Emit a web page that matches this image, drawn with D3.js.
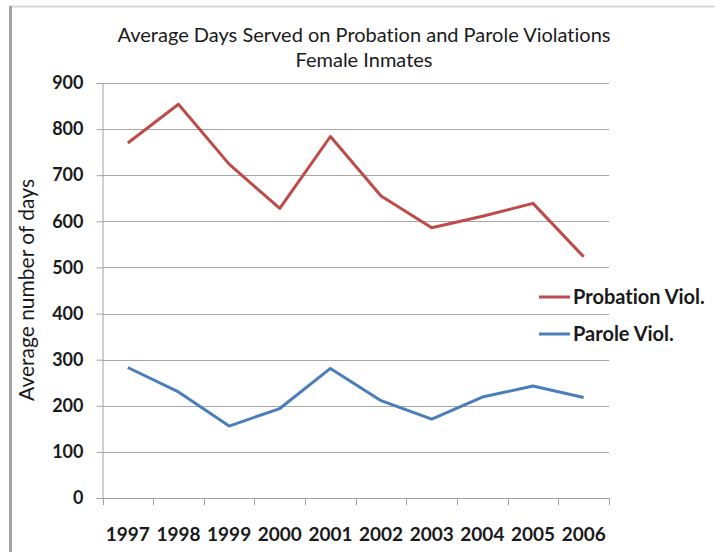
<!DOCTYPE html>
<html>
<head>
<meta charset="utf-8">
<script src="https://cdn.jsdelivr.net/npm/d3@7"></script>
<style>
  html, body { margin: 0; padding: 0; background: #fff; }
  svg { display: block; }
  text { font-family: Lato, "Open Sans", sans-serif; fill: #1a1a1a; font-variant-ligatures: none; }
</style>
</head>
<body>
<svg id="chart" width="715" height="552"></svg>
<script>
// Average days served, female inmates
const years = ["1997", "1998", "1999", "2000", "2001", "2002", "2003", "2004", "2005", "2006"];
const probationViol = [770, 854, 724, 628, 784, 655, 586, 611, 639, 523];
const paroleViol = [283, 230, 156, 194, 281, 211, 171, 219, 243, 218];
const yTicks = [0, 100, 200, 300, 400, 500, 600, 700, 800, 900];
const seriesNames = ["Probation Viol.", "Parole Viol."];
const seriesColors = ["#be4b48", "#4a7ebb"];

const svg = d3.select("#chart");

// outer frame: light top rule, darker left rule
svg.append("line").attr("x1", 9).attr("x2", 715).attr("y1", 6.5).attr("y2", 6.5)
  .attr("stroke", "#d9d9d9").attr("stroke-width", 2);
svg.append("line").attr("x1", 10.5).attr("x2", 10.5).attr("y1", 6).attr("y2", 552)
  .attr("stroke", "#a3a3a3").attr("stroke-width", 3);

const plotLeft = 102.5, plotRight = 609, plotTop = 83, plotBottom = 498;

const x = d3.scalePoint().domain(years).range([plotLeft, plotRight]).padding(0.5);
const xBand = d3.scaleBand().domain(years).range([plotLeft, plotRight]);
const y = d3.scaleLinear().domain([0, 900]).range([plotBottom, plotTop]);

// horizontal gridlines
svg.append("g")
  .selectAll("line")
  .data(yTicks.filter(d => d > 0))
  .join("line")
  .attr("x1", plotLeft).attr("x2", plotRight)
  .attr("y1", d => Math.round(y(d)) + 0.5).attr("y2", d => Math.round(y(d)) + 0.5)
  .attr("stroke", "#a8a8a8").attr("stroke-width", 1);

// y axis
const yAxis = svg.append("g")
  .attr("transform", `translate(${plotLeft},0)`)
  .call(d3.axisLeft(y).tickValues(yTicks).tickSize(6).tickPadding(13).tickFormat(d3.format("d")));
yAxis.select(".domain").attr("stroke", "#a0a0a0");
yAxis.selectAll(".tick line").attr("stroke", "#a0a0a0");
yAxis.selectAll(".tick text")
  .style("font-family", "Lato, sans-serif").style("font-weight", "bold").style("font-size", "18px")
  .attr("fill", "#1a1a1a");

// x axis with tick marks at category boundaries
const xAxisG = svg.append("g").attr("transform", `translate(0,${plotBottom})`);
xAxisG.append("line").attr("x1", plotLeft).attr("x2", plotRight).attr("y1", 0.5).attr("y2", 0.5)
  .attr("stroke", "#a0a0a0");
xAxisG.selectAll("line.tk")
  .data(years.map(d => xBand(d)).concat([plotRight]))
  .join("line").attr("class", "tk")
  .attr("x1", d => Math.round(d) + 0.5).attr("x2", d => Math.round(d) + 0.5)
  .attr("y1", 0).attr("y2", 7)
  .attr("stroke", "#a0a0a0");
xAxisG.selectAll("text")
  .data(years)
  .join("text")
  .attr("x", d => x(d)).attr("y", 43)
  .attr("text-anchor", "middle")
  .style("font-weight", "bold").style("font-size", "19px")
  .text(d => d);

// series lines
const line = d3.line().x((d, i) => x(years[i])).y(d => y(d));
[probationViol, paroleViol].forEach((vals, k) => {
  svg.append("path")
    .datum(vals)
    .attr("d", line)
    .attr("fill", "none")
    .attr("stroke", seriesColors[k])
    .attr("stroke-width", 3)
    .attr("stroke-linejoin", "round");
});

// legend
const legendY = [297, 334];
seriesNames.forEach((name, k) => {
  const g = svg.append("g").attr("transform", `translate(539,${legendY[k]})`);
  g.append("line").attr("x1", 0).attr("x2", 31).attr("y1", 0).attr("y2", 0)
    .attr("stroke", seriesColors[k]).attr("stroke-width", 3);
  g.append("text").attr("x", 34).attr("y", 7)
    .style("font-weight", "bold").style("font-size", "20px")
    .text(name);
});

// title
svg.append("text").attr("x", 364).attr("y", 42).attr("text-anchor", "middle")
  .style("font-size", "20px").attr("fill", "#111")
  .text("Average Days Served on Probation and Parole Violations");
svg.append("text").attr("x", 364).attr("y", 67).attr("text-anchor", "middle")
  .style("font-size", "20px").attr("fill", "#111")
  .text("Female Inmates");

// y axis title
svg.append("text")
  .attr("transform", "translate(34,290) rotate(-90)")
  .attr("text-anchor", "middle")
  .style("font-size", "21px")
  .text("Average number of days");
</script>
</body>
</html>
